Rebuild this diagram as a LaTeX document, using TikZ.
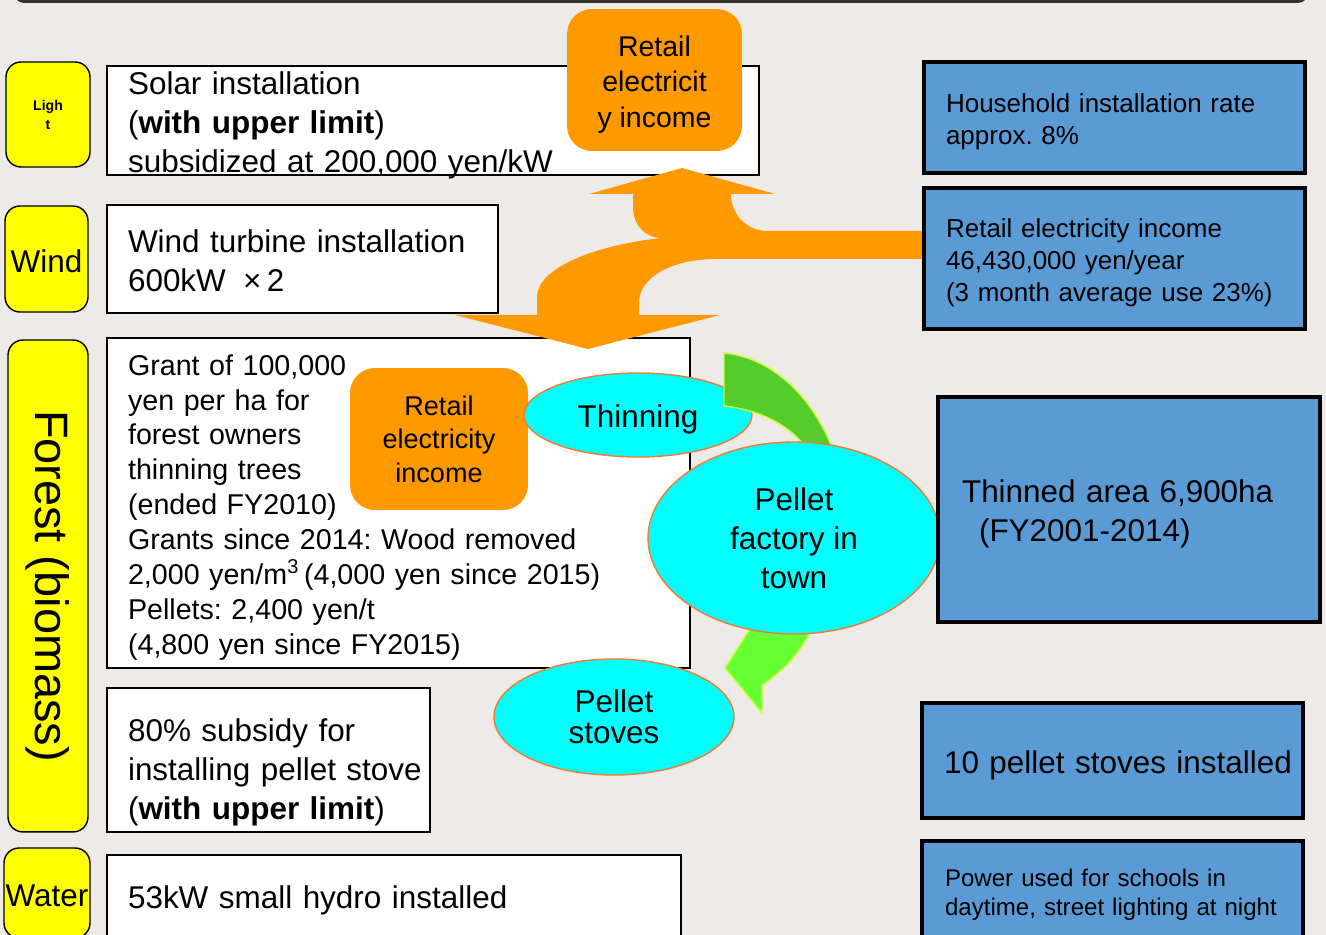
\documentclass[tikz,border=0pt]{standalone}
\usepackage{fontspec}
\setmainfont{Liberation Sans}
\usetikzlibrary{shapes.geometric}
\frenchspacing

\definecolor{bgcol}{RGB}{238,234,231}
\definecolor{lblyellow}{RGB}{255,255,0}
\definecolor{incomeorange}{RGB}{255,153,0}
\definecolor{pelletcyan}{RGB}{0,255,255}
\definecolor{rimorange}{RGB}{237,125,49}
\definecolor{resultblue}{RGB}{91,155,213}
\definecolor{cyclegreen}{RGB}{85,204,43}
\definecolor{cyclelime}{RGB}{102,255,51}
\definecolor{cyclerim}{RGB}{204,255,51}

% strut that lowers a node's text a little
\newcommand{\dropby}[1]{\rule{0pt}{#1em}}

\begin{document}
\begin{tikzpicture}[x=0.02cm, y=-0.02cm,
  lbl/.style={draw=black, line width=0.8pt, fill=lblyellow, rounded corners=0.3cm, inner sep=0pt, align=center},
  wbox/.style={draw=black, line width=1.1pt, fill=white, align=left, inner xsep=0.42cm, inner ysep=0pt},
  obox/.style={fill=incomeorange, rounded corners=0.5cm, inner sep=0pt, align=center},
  bubble/.style={ellipse, draw=rimorange, line width=0.8pt, fill=pelletcyan, inner sep=0pt, align=center,
    font=\fontsize{17.9}{22.2}\selectfont},
  rbox/.style={draw=black, line width=2.2pt, fill=resultblue, align=left, inner xsep=0.44cm, inner ysep=0pt},
  txtbig/.style={font=\fontsize{17.9}{22.2}\selectfont},
  txtmid/.style={font=\fontsize{16.3}{19.9}\selectfont},
  txtsmall/.style={font=\fontsize{14.8}{18.2}\selectfont},
  txttiny/.style={font=\fontsize{13.7}{16.5}\selectfont},
  cycle arc/.style={draw=cyclerim, line width=0.8pt}
]
  \useasboundingbox (0,0) rectangle (1326,935);
  \clip (0,0) rectangle (1326,935);
  \fill[bgcol] (0,0) rectangle (1326,935);
  \draw[line width=1.5pt, black!80, rounded corners=0.15cm] (16,-20) -- (16,1.5) -- (1306,1.5) -- (1306,-20);

  % Measures taken
  \node[wbox, txtbig, text width=12.2cm, text depth=43.1pt, minimum height=2.18cm] (solar) at (433,120.5)
    {Solar installation\\(\textbf{with upper limit})\\subsidized at 200,000 yen/kW};
  \node[wbox, txtbig, text width=6.98cm, minimum height=2.16cm] (turbine) at (302.5,259)
    {\dropby{0.86}Wind turbine installation\\600kW\hspace{0.55em}×\,2};
  \node[wbox, txtmid, text width=10.82cm, minimum height=6.6cm] (grant) at (398.5,503)
    {\dropby{1.04}Grant of 100,000\\yen per ha for\\forest owners\\thinning trees\\(ended FY2010)\\
     Grants since 2014: Wood removed\\2,000 yen/m\textsuperscript{3}\,(4,000 yen since 2015)\\
     Pellets: 2,400 yen/t\\(4,800 yen since FY2015)};
  \node[wbox, txtbig, text width=5.62cm, minimum height=2.88cm] (stovegrant) at (268.5,760)
    {\dropby{1.49}80\% subsidy for\\\mbox{installing pellet stove}\\(\textbf{with upper limit})};
  \node[wbox, txtbig, text width=10.64cm, minimum height=1.68cm] (hydro) at (394,897)
    {\dropby{0.92}53kW small hydro installed};

  % Energy sources
  \node[lbl, font=\bfseries\fontsize{8}{10.8}\selectfont, minimum width=1.68cm, minimum height=2.1cm] (light) at (48,114.5) {Ligh\\t};
  \node[lbl, txtbig, minimum width=1.66cm, minimum height=2.12cm] (wind) at (46.5,259) {\dropby{0.86}Wind};
  \node[lbl, font=\fontsize{26.7}{30}\selectfont, rotate=-90, minimum width=9.84cm, minimum height=1.6cm] (forest) at (48,586) {Forest (biomass)};
  \node[lbl, txtbig, minimum width=1.72cm, minimum height=1.8cm] (water) at (47,893) {\dropby{0.86}Water};

  % Income flow
  \fill[incomeorange] (588,349) -- (720,315) -- (639,315) -- (639,303)
    .. controls (639,277) and (672,259) .. (717,259) -- (930,259) -- (930,231) -- (768,231)
    .. controls (747,231) and (731,215) .. (731,194) -- (775,194) -- (682,168) -- (589,194) -- (633,194) -- (633,207)
    .. controls (633,225) and (645,238) .. (662,238)
    .. controls (595,245) and (537,268) .. (537,297) -- (537,315) -- (455,315) -- cycle;

  \node[obox, font=\fontsize{16.2}{20.2}\selectfont, minimum width=3.5cm, minimum height=2.84cm] (salestop) at (654.5,80)
    {\dropby{1.05}Retail\\electricit\\y income};
  \node[obox, font=\fontsize{15.4}{19.1}\selectfont, minimum width=3.56cm, minimum height=2.84cm] (salesmid) at (439,439)
    {Retail\\electricity\\income};

  % Pellet cycle
  \node[bubble, minimum width=4.56cm, minimum height=1.68cm] (thinning) at (638,415) {\dropby{0.99}Thinning};
  \filldraw[cycle arc, fill=cyclegreen] (724,353) .. controls (775,358) and (815,400) .. (835,455)
    -- (808,450) .. controls (790,425) and (760,410) .. (724,406) -- cycle;
  \filldraw[cycle arc, fill=cyclelime] (762,610) -- (725,668) -- (762,713) -- (762,685)
    .. controls (785,670) and (803,650) .. (815,622) -- cycle;
  \node[bubble, minimum width=5.84cm, minimum height=3.84cm] (factory) at (794,538) {Pellet\\factory in\\town};
  \node[bubble, font=\fontsize{17.9}{17.8}\selectfont, minimum width=4.8cm, minimum height=2.32cm] (stoves) at (614,717) {Pellet\\stoves};

  % Results
  \node[rbox, txtsmall, text width=6.74cm, minimum height=2.22cm] (share) at (1114.5,117.5)
    {\dropby{1.04}Household installation rate\\approx. 8\%};
  \node[rbox, txtsmall, text width=6.74cm, minimum height=2.82cm] (sales) at (1114.5,258.5)
    {\dropby{1.04}Retail electricity income\\46,430,000 yen/year\\(3 month average use 23\%)};
  \node[rbox, txtbig, text width=6.68cm, inner xsep=0.48cm, minimum height=4.5cm] (thinned) at (1129,509.5)
    {\dropby{0.99}Thinned area 6,900ha\\\hspace*{0.34cm}(FY2001-2014)};
  \node[rbox, txtbig, text width=6.74cm, minimum height=2.3cm] (installed) at (1112.5,760.5)
    {\dropby{1.05}\mbox{10 pellet stoves installed}};
  \node[rbox, txttiny, text width=6.7cm, inner xsep=0.46cm, minimum height=2.08cm] (usage) at (1112.5,893)
    {\dropby{0.9}Power used for schools in\\daytime, street lighting at night};
\end{tikzpicture}
\end{document}
